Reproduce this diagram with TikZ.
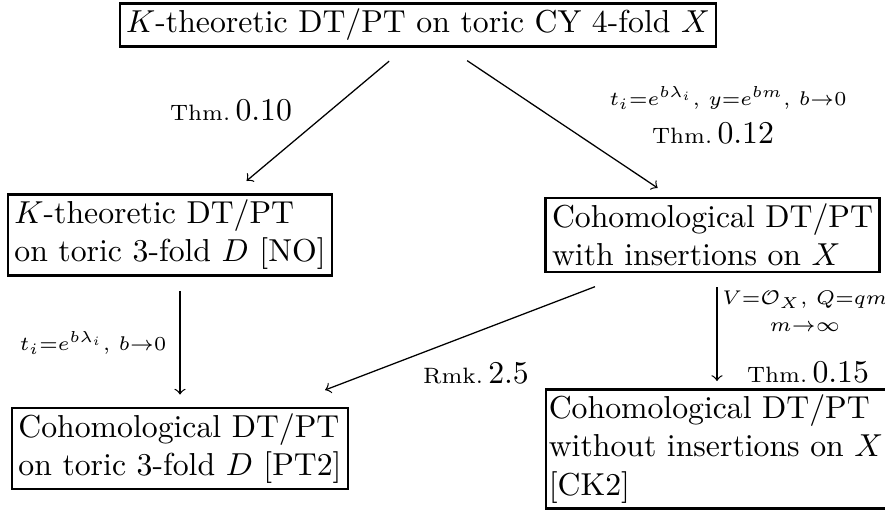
\documentclass[tikz,border=0pt]{standalone}
\usepackage{fix-cm}
\DeclareMathSizes{6.25}{6.25}{5}{4}
\usetikzlibrary{calc}
\def\pu{0.315pt}
\begin{document}
\begin{tikzpicture}[x=0.315pt,y=-0.315pt,
  box/.style={draw,line width=0.8pt,align=left,inner xsep=2pt,inner ysep=1.8pt},
  arr/.style={->,line width=0.4pt},
  lab/.style={inner sep=0pt,font=\fontsize{6.25}{8}\selectfont},
  thm/.style={inner sep=0pt}]
\newcommand{\refno}[2]{{\scriptsize #1}\,#2}
\useasboundingbox (0,0) rectangle (885,510);
\node[box] (top) at (418,25) {$K$-theoretic DT/PT on toric CY 4-fold $X$};
\node[box] (ml) at (170,235) {$K$-theoretic DT/PT\\on toric 3-fold $D$ [NO]};
\node[box] (mr) at (712.5,235) {Cohomological DT/PT\\with insertions on $X$};
\node[box] (bl) at (180,448.5) {Cohomological DT/PT\\on toric 3-fold $D$ [PT2]};
\node[box,inner xsep=0.9pt] (br) at (716,449) {Cohomological DT/PT\\without insertions on $X$\\{}[CK2]};
\draw[arr,shorten <=20.7*\pu,shorten >=19*\pu] ([xshift=-13*\pu]top.south) -- ([xshift=62*\pu]ml.north);
\draw[arr,shorten <=23*\pu,shorten >=16*\pu] ([xshift=30*\pu]top.south) -- ([xshift=-41.5*\pu]mr.north);
\draw[arr,shorten <=14*\pu,shorten >=12*\pu] ([xshift=10*\pu]ml.south) -- (bl.north);
\draw[arr,shorten <=38*\pu,shorten >=46.5*\pu] ([xshift=-82*\pu]mr.south) -- ([xshift=101.7*\pu]bl.north);
\draw[arr,shorten <=14*\pu,shorten >=7*\pu] ([xshift=4.5*\pu]mr.south) -- ([xshift=1*\pu]br.north);
\node[thm] (l1) at (231,110) {\refno{Thm.}{0.10}};
\node[lab] (l2) at (728,98) {$t_i{=}e^{b\lambda_i},\,y{=}e^{bm},\,b{\to}0$};
\node[thm] (l3) at (713,133) {\refno{Thm.}{0.12}};
\node[lab] (l4) at (93,343) {$t_i{=}e^{b\lambda_i},\,b{\to}0$};
\node[thm] (l5) at (476,373) {\refno{Rmk.}{2.5}};
\node[lab] (l6) at (805,300) {$V{=}\mathcal{O}_X,\,Q{=}qm$};
\node[lab] (l7) at (805,327) {$m{\to}\infty$};
\node[thm] (l8) at (808,372) {\refno{Thm.}{0.15}};
\end{tikzpicture}
\end{document}
